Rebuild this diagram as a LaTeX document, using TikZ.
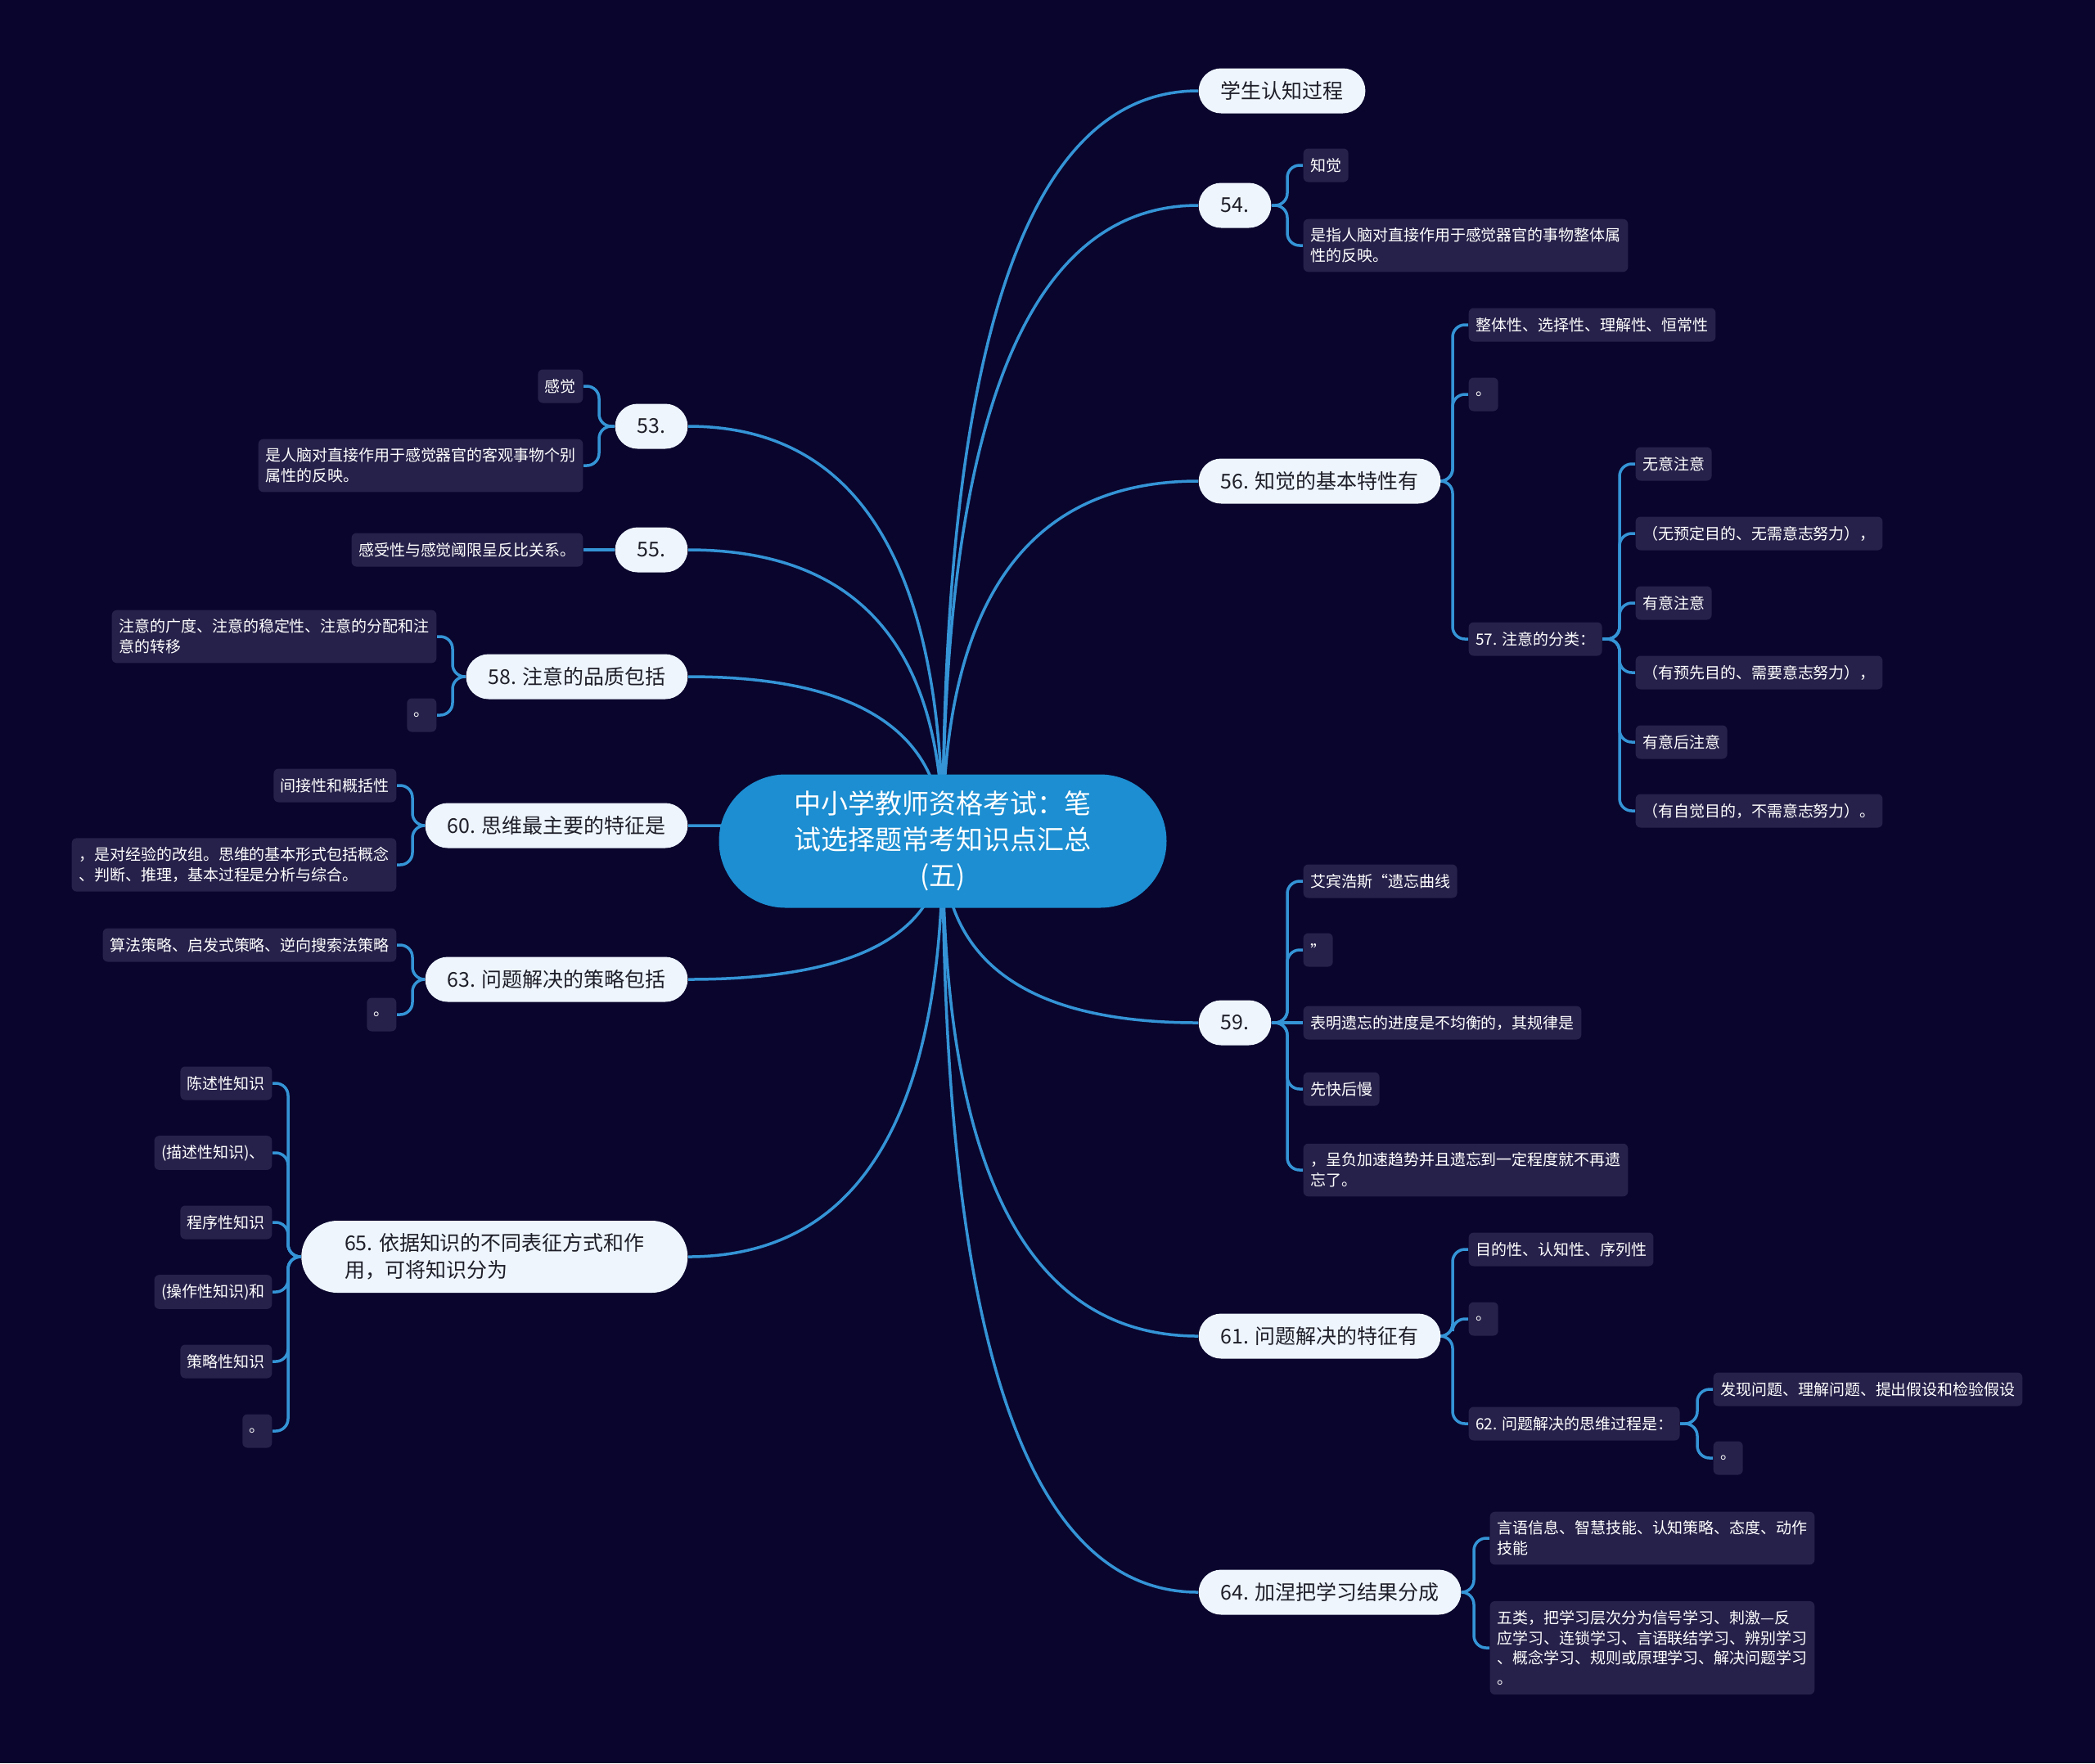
\documentclass[tikz,border=0pt]{standalone}
\usepackage{fontspec}
\setmainfont{Noto Sans CJK SC}
\usetikzlibrary{calc}

\definecolor{bgnavy}{RGB}{10,5,45}
\definecolor{rootblue}{RGB}{28,142,209}
\definecolor{topicpale}{RGB}{238,245,253}
\definecolor{topicink}{RGB}{30,30,40}
\definecolor{leafpurple}{RGB}{38,33,74}
\definecolor{linkblue}{RGB}{52,148,214}

\pgfdeclarelayer{back}
\pgfdeclarelayer{links}
\pgfsetlayers{back,links,main}

\begin{document}
\begin{tikzpicture}[
    root/.style={
        fill=rootblue,
        text=white,
        rounded corners=0.815cm,
        minimum width=5.47cm,
        minimum height=1.63cm,
        align=center,
        font=\fontsize{9.4}{12.5}\selectfont
    },
    topic/.style={
        fill=topicpale,
        text=topicink,
        rounded corners=0.275cm,
        minimum height=0.55cm,
        inner xsep=0.27cm,
        align=left,
        font=\fontsize{7.1}{9.4}\selectfont
    },
    leaf/.style={
        fill=leafpurple,
        text=white,
        rounded corners=0.06cm,
        minimum height=0.41cm,
        inner xsep=0.085cm,
        inner ysep=0.11cm,
        align=left,
        font=\fontsize{5.4}{7.1}\selectfont
    },
    link/.style={
        draw=linkblue,
        line width=0.035cm
    },
    twig/.style={
        link,
        rounded corners=0.15cm
    }
]

    \useasboundingbox (0,0) rectangle (25.6,-21.55);
    \begin{pgfonlayer}{back}
        \fill[bgnavy] (0,0) rectangle (25.6,-21.55);
    \end{pgfonlayer}

    % centre
    \node[root] (root) at (11.52,-10.28)
        {中小学教师资格考试：笔\\试选择题常考知识点汇总\\(五)};

    % right topics
    \node[topic, anchor=west] (cog) at (14.64,-1.11) {学生认知过程};
    \node[topic, anchor=west] (n54) at (14.64,-2.51) {54.};
    \node[topic, anchor=west] (n56) at (14.64,-5.88) {56. 知觉的基本特性有};
    \node[topic, anchor=west] (n59) at (14.64,-12.50) {59.};
    \node[topic, anchor=west] (n61) at (14.64,-16.33) {61. 问题解决的特征有};
    \node[topic, anchor=west] (n64) at (14.64,-19.46) {64. 加涅把学习结果分成};

    % left topics
    \node[topic, anchor=east] (n53) at (8.41,-5.21) {53.};
    \node[topic, anchor=east] (n55) at (8.41,-6.72) {55.};
    \node[topic, anchor=east] (n58) at (8.41,-8.27) {58. 注意的品质包括};
    \node[topic, anchor=east] (n60) at (8.41,-10.09) {60. 思维最主要的特征是};
    \node[topic, anchor=east] (n63) at (8.41,-11.97) {63. 问题解决的策略包括};
    \node[
        topic,
        anchor=east,
        minimum width=4.72cm,
        minimum height=0.88cm,
        rounded corners=0.44cm
    ] (n65) at (8.41,-15.36)
        {65. 依据知识的不同表征方式和作\\用，可将知识分为};

    % 54
    \node[leaf, anchor=west] (l54a) at (15.92,-2.02) {知觉};
    \node[leaf, anchor=west] (l54b) at (15.92,-3.00)
        {是指人脑对直接作用于感觉器官的事物整体属\\性的反映。};

    % 56 and 57
    \node[leaf, anchor=west] (l56a) at (17.94,-3.97) {整体性、选择性、理解性、恒常性};
    \node[leaf, anchor=west] (l56b) at (17.94,-4.82) {。};
    \node[leaf, anchor=west] (l57) at (17.94,-7.81) {57. 注意的分类：};
    \node[leaf, anchor=west] (l57a) at (19.98,-5.67) {无意注意};
    \node[leaf, anchor=west] (l57b) at (19.98,-6.52) {（无预定目的、无需意志努力），};
    \node[leaf, anchor=west] (l57c) at (19.98,-7.37) {有意注意};
    \node[leaf, anchor=west] (l57d) at (19.98,-8.22) {（有预先目的、需要意志努力），};
    \node[leaf, anchor=west] (l57e) at (19.98,-9.07) {有意后注意};
    \node[leaf, anchor=west] (l57f) at (19.98,-9.91) {（有自觉目的，不需意志努力）。};

    % 59
    \node[leaf, anchor=west] (l59a) at (15.92,-10.77) {艾宾浩斯“遗忘曲线};
    \node[leaf, anchor=west] (l59b) at (15.92,-11.61) {”};
    \node[leaf, anchor=west] (l59c) at (15.92,-12.50) {表明遗忘的进度是不均衡的，其规律是};
    \node[leaf, anchor=west] (l59d) at (15.92,-13.31) {先快后慢};
    \node[leaf, anchor=west] (l59e) at (15.92,-14.30)
        {，呈负加速趋势并且遗忘到一定程度就不再遗\\忘了。};

    % 61 and 62
    \node[leaf, anchor=west] (l61a) at (17.94,-15.27) {目的性、认知性、序列性};
    \node[leaf, anchor=west] (l61b) at (17.94,-16.12) {。};
    \node[leaf, anchor=west] (l62) at (17.94,-17.40) {62. 问题解决的思维过程是：};
    \node[leaf, anchor=west] (l62a) at (20.93,-16.98) {发现问题、理解问题、提出假设和检验假设};
    \node[leaf, anchor=west] (l62b) at (20.93,-17.82) {。};

    % 64
    \node[leaf, anchor=west] (l64a) at (18.20,-18.80)
        {言语信息、智慧技能、认知策略、态度、动作\\技能};
    \node[leaf, anchor=west] (l64b) at (18.20,-20.14)
        {五类，把学习层次分为信号学习、刺激—反\\应学习、连锁学习、言语联结学习、辨别学习\\、概念学习、规则或原理学习、解决问题学习\\。};

    % 53 and 55
    \node[leaf, anchor=east] (l53a) at (7.13,-4.72) {感觉};
    \node[leaf, anchor=east] (l53b) at (7.13,-5.69)
        {是人脑对直接作用于感觉器官的客观事物个别\\属性的反映。};
    \node[leaf, anchor=east] (l55a) at (7.13,-6.72) {感受性与感觉阈限呈反比关系。};

    % 58
    \node[leaf, anchor=east] (l58a) at (5.34,-7.78)
        {注意的广度、注意的稳定性、注意的分配和注\\意的转移};
    \node[leaf, anchor=east] (l58b) at (5.34,-8.74) {。};

    % 60 and 63
    \node[leaf, anchor=east] (l60a) at (4.85,-9.60) {间接性和概括性};
    \node[leaf, anchor=east] (l60b) at (4.85,-10.57)
        {，是对经验的改组。思维的基本形式包括概念\\、判断、推理，基本过程是分析与综合。};
    \node[leaf, anchor=east] (l63a) at (4.85,-11.55) {算法策略、启发式策略、逆向搜索法策略};
    \node[leaf, anchor=east] (l63b) at (4.85,-12.40) {。};

    % 65
    \node[leaf, anchor=east] (l65a) at (3.33,-13.24) {陈述性知识};
    \node[leaf, anchor=east] (l65b) at (3.33,-14.09) {(描述性知识)、};
    \node[leaf, anchor=east] (l65c) at (3.33,-14.94) {程序性知识};
    \node[leaf, anchor=east] (l65d) at (3.33,-15.79) {(操作性知识)和};
    \node[leaf, anchor=east] (l65e) at (3.33,-16.64) {策略性知识};
    \node[leaf, anchor=east] (l65f) at (3.33,-17.49) {。};

    \begin{pgfonlayer}{links}
        % centre to topics
        \foreach \n in {cog,n54,n56,n59,n61,n64}
            \draw[link] (root.center)
                .. controls ($(root.center)!0.667!(root.center |- \n.west)$)
                and ($(\n.west)!0.667!(root.center |- \n.west)$) .. (\n.west);
        \foreach \n in {n53,n55,n58,n60,n63,n65}
            \draw[link] (root.center)
                .. controls ($(root.center)!0.667!(root.center |- \n.east)$)
                and ($(\n.east)!0.667!(root.center |- \n.east)$) .. (\n.east);

        % topics to leaves, right
        \foreach \p/\c in {n54/l54a,n54/l54b,
                           n56/l56a,n56/l56b,n56/l57,
                           l57/l57a,l57/l57b,l57/l57c,l57/l57d,l57/l57e,l57/l57f,
                           n59/l59a,n59/l59b,n59/l59d,n59/l59e,
                           n61/l61a,n61/l61b,n61/l62,
                           l62/l62a,l62/l62b,
                           n64/l64a,n64/l64b}
            \draw[twig] (\p.east) -| ([xshift=-1.9mm]\c.west) -- (\c.west);
        \draw[link] (n59.east) -- (l59c.west);

        % topics to leaves, left
        \foreach \p/\c in {n53/l53a,n53/l53b,
                           n58/l58a,n58/l58b,
                           n60/l60a,n60/l60b,
                           n63/l63a,n63/l63b,
                           n65/l65a,n65/l65b,n65/l65c,n65/l65d,n65/l65e,n65/l65f}
            \draw[twig] (\p.west) -| ([xshift=1.9mm]\c.east) -- (\c.east);
        \draw[link] (n55.west) -- (l55a.east);
    \end{pgfonlayer}

\end{tikzpicture}
\end{document}
